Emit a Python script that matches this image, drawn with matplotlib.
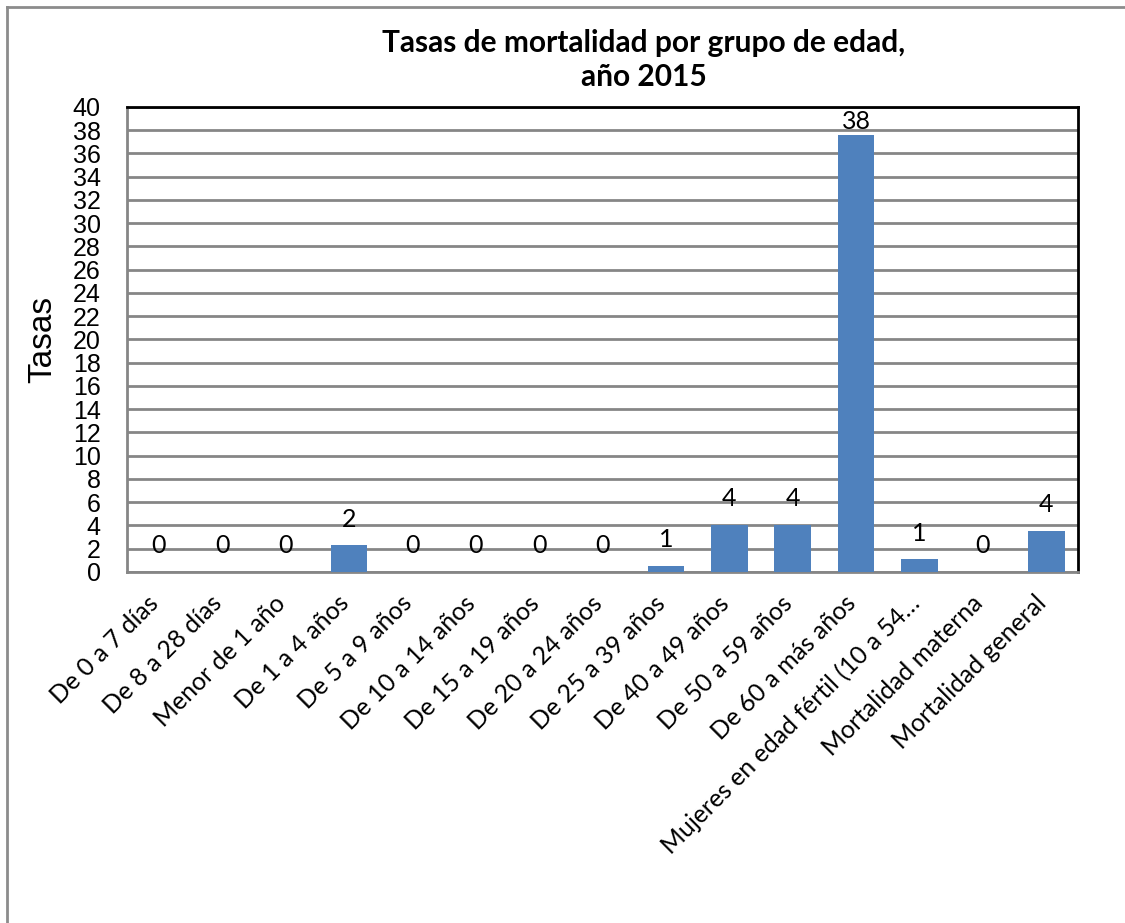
import matplotlib
matplotlib.use('Agg')
import matplotlib.pyplot as plt
from matplotlib.lines import Line2D
from matplotlib.transforms import ScaledTranslation

# ── data ──────────────────────────────────────────────────────────────────────
grupos = ['De 0 a 7 días', 'De 8 a 28 días', 'Menor de 1 año', 'De 1 a 4 años',
          'De 5 a 9 años', 'De 10 a 14 años', 'De 15 a 19 años', 'De 20 a 24 años',
          'De 25 a 39 años', 'De 40 a 49 años', 'De 50 a 59 años',
          'De 60 a más años', 'Mujeres en edad fértil (10 a 54…',
          'Mortalidad materna', 'Mortalidad general']
tasas = [0, 0, 0, 2.3, 0, 0, 0, 0, 0.52, 4.05, 4.05, 37.6, 1.1, 0, 3.56]
y_ticks = list(range(0, 41, 2))

BAR = '#4F81BD'
GRID = '#868686'
TXT = ['Lato', 'DejaVu Sans']
NUM = ['Liberation Sans', 'DejaVu Sans']
YMAX = 40

fig = plt.figure(figsize=(11.25, 9.23), dpi=100)
ax = fig.add_axes([0.1129, 0.3803, 0.9582 - 0.1129, 0.8841 - 0.3803])

x = range(len(grupos))
ax.bar(x, tasas, width=0.575, color=BAR, zorder=3)

# data labels above each bar, kept inside the plot area
for i, v in enumerate(tasas):
    y_lab = min(v + 2.25, YMAX - 1.25)
    ax.text(i, y_lab, f'{v:.0f}', ha='center', va='center', fontsize=18,
            family=TXT, zorder=4)

ax.set_xlim(-0.5, len(grupos) - 0.5)
ax.set_ylim(0, YMAX)
ax.set_yticks(y_ticks)
ax.set_yticklabels([str(t) for t in y_ticks], family=NUM, fontsize=18)
ax.tick_params(axis='y', length=0, pad=19)
ax.yaxis.grid(True, color=GRID, lw=2, zorder=0)

ax.set_xticks(list(x))
ax.set_xticklabels(grupos, rotation=45, ha='right', va='top',
                   rotation_mode='anchor', family=TXT, fontsize=17.8)
ax.tick_params(axis='x', length=0, pad=14)
shift = ScaledTranslation(-0.12, 0, fig.dpi_scale_trans)
for lab in ax.get_xticklabels():
    lab.set_transform(lab.get_transform() + shift)

ax.set_ylabel('Tasas', family=NUM, fontsize=24, labelpad=10)

for s in ('top', 'right'):
    ax.spines[s].set_color('black')
    ax.spines[s].set_linewidth(2)
for s in ('left', 'bottom'):
    ax.spines[s].set_color(GRID)
    ax.spines[s].set_linewidth(2)

fig.text(0.572, 0.935, 'Tasas de mortalidad por grupo de edad,\naño 2015',
         ha='center', va='center', fontsize=21.5, fontweight='bold',
         family=TXT, linespacing=1.25)

# chart frame: only the left and top edges show
fig.add_artist(Line2D([0.0062, 0.0062], [0, 0.9924], transform=fig.transFigure,
                      color='#8c8c8c', lw=2))
fig.add_artist(Line2D([0.0062, 1], [0.9924, 0.9924], transform=fig.transFigure,
                      color='#8c8c8c', lw=2))

fig.savefig('out.png', dpi=100)
